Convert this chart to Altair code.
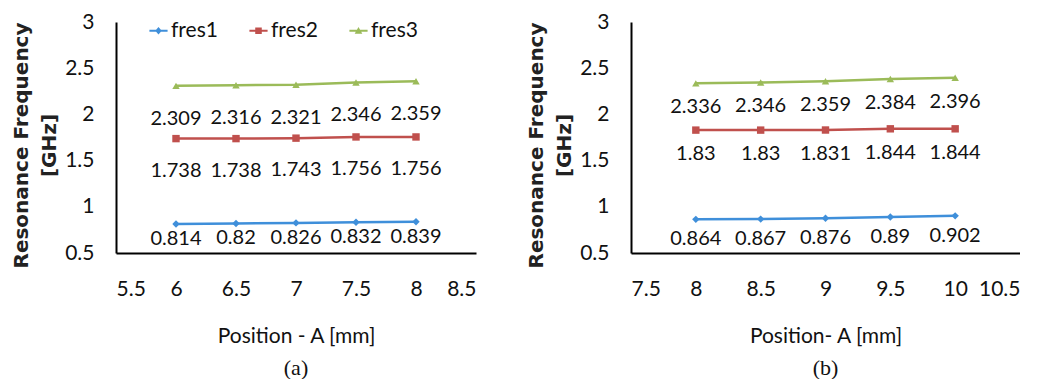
import altair as alt
import pandas as pd

series_names = ["fres1", "fres2", "fres3"]
colors = ["#3F8FDA", "#C0504D", "#9BBB59"]
point_shapes = ["diamond", "square", "triangle-up"]
legend_shapes = [
    "M-1,-0.1H1V0.1H-1Z M0,-0.42L0.36,0L0,0.42L-0.36,0Z",
    "M-1,-0.1H1V0.1H-1Z M-0.36,-0.36H0.36V0.36H-0.36Z",
    "M-1,-0.1H1V0.1H-1Z M0,-0.42L0.42,0.32L-0.42,0.32Z",
]

# Panel (a)
pos_a = [6, 6.5, 7, 7.5, 8]
fres1_a = [0.814, 0.82, 0.826, 0.832, 0.839]
fres2_a = [1.738, 1.738, 1.743, 1.756, 1.756]
fres3_a = [2.309, 2.316, 2.321, 2.346, 2.359]
xticks_a = [5.5, 6, 6.5, 7, 7.5, 8, 8.5]

# Panel (b)
pos_b = [8, 8.5, 9, 9.5, 10]
fres1_b = [0.864, 0.867, 0.876, 0.89, 0.902]
fres2_b = [1.83, 1.83, 1.831, 1.844, 1.844]
fres3_b = [2.336, 2.346, 2.359, 2.384, 2.396]
xticks_b = [7.5, 8, 8.5, 9, 9.5, 10, 10.5]

yticks = [0.5, 1, 1.5, 2, 2.5, 3]

FONT = "Lato"
TXT = "#111111"


def make_df(pos, s1, s2, s3):
    rows = []
    for name, vals in zip(series_names, [s1, s2, s3]):
        for p, v in zip(pos, vals):
            rows.append({"pos": p, "value": v, "series": name, "label": f"{v:g}"})
    return pd.DataFrame(rows)


def panel(df, xticks, width, dys, caption, xtitle, with_legend):
    base = alt.Chart(df)
    x = alt.X(
        "pos:Q",
        scale=alt.Scale(domain=[xticks[0], xticks[-1]], nice=False, zero=False),
        axis=alt.Axis(
            values=xticks, title=xtitle, grid=False, ticks=False, tickSize=0,
            domainColor="black", domainWidth=2,
            labelFont=FONT, labelFontSize=21, labelColor=TXT, labelPadding=25,
            labelExpr="'' + datum.value",
            titleFont=FONT, titleFontSize=21, titleFontWeight="normal",
            titleColor=TXT, titlePadding=26,
        ),
    )
    y = alt.Y(
        "value:Q",
        scale=alt.Scale(domain=[0.5, 3], nice=False, zero=False),
        axis=alt.Axis(
            values=yticks, title=["Resonance Frequency", "[GHz]"], grid=False,
            ticks=False, tickSize=0, domainColor="black", domainWidth=2,
            labelFont=FONT, labelFontSize=21, labelColor=TXT, labelPadding=22,
            labelExpr="'' + datum.value",
            titleFont="DejaVu Sans", titleFontSize=20, titleFontWeight="bold",
            titleColor="#222222", titleLineHeight=28, titlePadding=5, titleY=123,
        ),
    )
    cscale = alt.Scale(domain=series_names, range=colors)
    line = base.mark_line(strokeWidth=2.5).encode(
        x=x, y=y, color=alt.Color("series:N", scale=cscale, legend=None)
    )
    pts = base.mark_point(filled=True, size=55, opacity=1).encode(
        x=x, y=y,
        color=alt.Color("series:N", scale=cscale, legend=None),
        shape=alt.Shape("series:N", scale=alt.Scale(domain=series_names, range=point_shapes), legend=None),
    )
    layers = [line, pts]
    if with_legend:
        leg = alt.Legend(
            title=None, orient="none", legendX=32, legendY=-2, direction="horizontal",
            symbolSize=330, symbolOpacity=1, symbolStrokeWidth=0,
            labelFont=FONT, labelFontSize=21, labelColor=TXT,
            columnPadding=30, labelOffset=2,
        )
        hidden = base.mark_point(filled=True, opacity=0).encode(
            x=x, y=y,
            color=alt.Color("series:N", scale=cscale, legend=leg),
            shape=alt.Shape("series:N", scale=alt.Scale(domain=series_names, range=legend_shapes), legend=leg),
        )
        layers.append(hidden)
    for name, dy in zip(series_names, dys):
        t = base.transform_filter(alt.datum.series == name).mark_text(
            dy=dy, font=FONT, fontSize=20, color=TXT
        ).encode(x=x, y=y, text="label:N")
        layers.append(t)
    return alt.layer(*layers).resolve_scale(color="independent", shape="independent").properties(
        width=width, height=231,
        title=alt.TitleParams(
            caption, orient="bottom", font="Liberation Serif", fontSize=22,
            fontWeight="normal", color=TXT, offset=12, anchor="middle", frame="group",
        ),
    )


pa = panel(make_df(pos_a, fres1_a, fres2_a, fres3_a), xticks_a, 360, [15, 32, 33], "(a)", "Position - A [mm]", True)
pb = panel(make_df(pos_b, fres1_b, fres2_b, fres3_b), xticks_b, 389, [20, 24, 24], "(b)", "Position- A [mm]", False)

chart = alt.hconcat(pa, pb, spacing=50).resolve_scale(
    color="independent", shape="independent"
).properties(padding={"left": 3, "top": 3, "right": 0, "bottom": 0}).configure_view(stroke=None)

chart.save("out.html", embed_options={"renderer": "svg", "actions": False})
